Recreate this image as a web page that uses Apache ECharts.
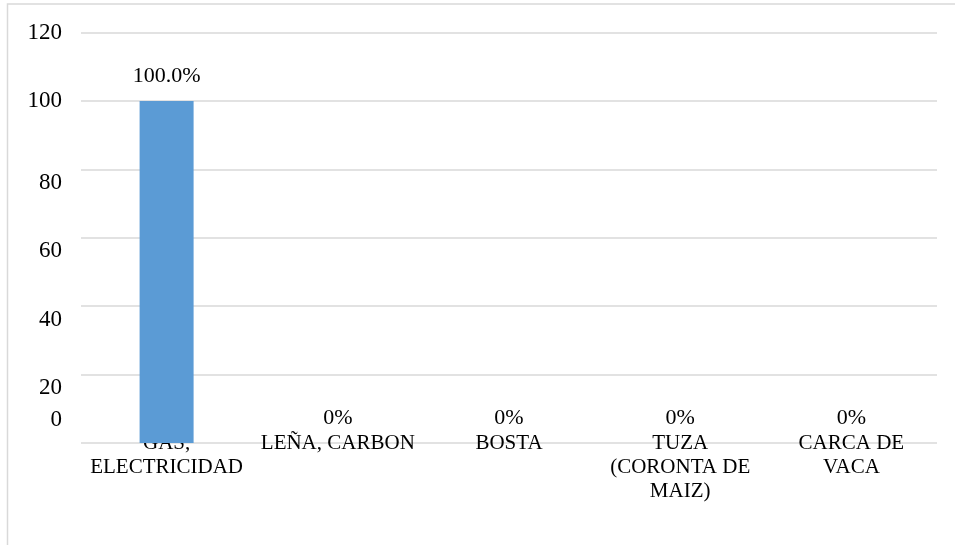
<!DOCTYPE html>
<html>
<head>
<meta charset="utf-8">
<script src="https://cdn.jsdelivr.net/npm/echarts@6/dist/echarts.min.js"></script>
<style>
  html, body { margin: 0; padding: 0; background: #fff; }
  #chart { width: 955px; height: 545px; }
</style>
</head>
<body>
<div id="chart"></div>
<script>
// Fuel categories (line breaks as shown under each column)
const categories = [
  'GAS,\nELECTRICIDAD',
  'LEÑA, CARBON',
  'BOSTA',
  'TUZA\n(CORONTA DE\nMAIZ)',
  'CARCA DE\nVACA'
];
// Share of households per fuel, in percent
const shares = [100, 0, 0, 0, 0];
// Value axis ticks
const yTicks = [0, 20, 40, 60, 80, 100, 120];

const serif = "'Liberation Serif', 'Times New Roman', serif";

// vertical nudges of individual tick labels (px, positive = down)
const tickShift = { 0: -23, 20: 13, 40: 14, 60: 13, 80: 14, 100: 0, 120: 0 };
const rich = {};
yTicks.forEach(function (t) {
  const s = tickShift[t];
  rich['t' + t] = {
    fontFamily: serif,
    fontSize: 23,
    color: '#000',
    padding: s >= 0 ? [2 * s, 0, 0, 0] : [0, 0, -2 * s, 0]
  };
});

const chart = echarts.init(document.getElementById('chart'), null, { renderer: 'canvas' });
chart.setOption({
  animation: false,
  backgroundColor: '#fff',
  graphic: [{
    type: 'rect',
    shape: { x: 7.5, y: 4, width: 1200, height: 1200 },
    style: { fill: 'none', stroke: '#d9d9d9', lineWidth: 1.5 },
    silent: true,
    z: -1
  }],
  grid: { left: 81, right: 18, top: 32.5, bottom: 102, containLabel: false },
  xAxis: {
    type: 'category',
    data: categories,
    axisLine: { show: false },
    axisTick: { show: false },
    axisLabel: {
      interval: 0,
      margin: -12,
      fontFamily: serif,
      fontSize: 21,
      lineHeight: 24,
      color: '#000',
      align: 'center'
    }
  },
  yAxis: {
    type: 'value',
    min: 0,
    max: 120,
    interval: 20,
    axisLine: { show: false },
    axisTick: { show: false },
    splitLine: { lineStyle: { color: '#d9d9d9', width: 1.5 } },
    axisLabel: {
      margin: 19,
      formatter: function (v) { return '{t' + v + '|' + v + '}'; },
      rich: rich
    }
  },
  series: [{
    type: 'bar',
    data: shares,
    barWidth: 54,
    itemStyle: { color: '#5b9bd5' },
    label: {
      show: true,
      position: 'top',
      distance: 13,
      fontFamily: serif,
      fontSize: 22,
      lineHeight: 24,
      color: '#000',
      formatter: function (p) {
        return p.value === 0 ? '0%' : p.value.toFixed(1) + '%';
      }
    }
  }]
});
</script>
</body>
</html>
